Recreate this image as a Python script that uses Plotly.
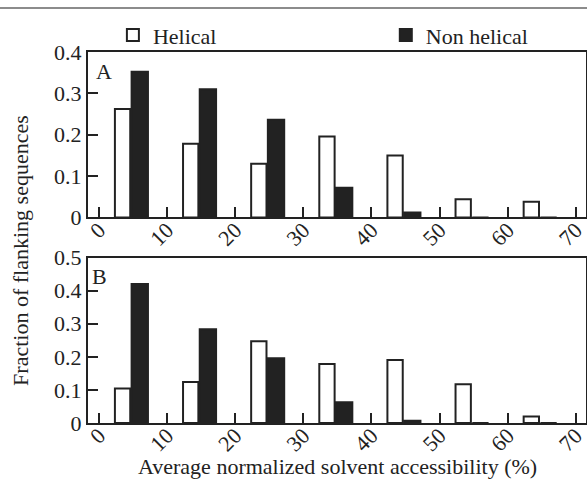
import plotly.graph_objects as go
from plotly.subplots import make_subplots

bins = [0, 10, 20, 30, 40, 50, 60]
tick_vals = [0, 10, 20, 30, 40, 50, 60, 70]
tick_text = ["0", "10", "20", "30", "40", "50", "60", "70"]

helical_A = [0.262, 0.178, 0.130, 0.196, 0.150, 0.044, 0.038]
nonhelical_A = [0.352, 0.310, 0.236, 0.072, 0.012, 0.0, 0.0]
helical_B = [0.104, 0.124, 0.247, 0.178, 0.190, 0.117, 0.020]
nonhelical_B = [0.420, 0.283, 0.196, 0.063, 0.007, 0.0, 0.0]

FONT = "Liberation Serif"
INK = "#222222"
FS = 22

fig = make_subplots(rows=2, cols=1, vertical_spacing=0.108)

for row, (h, n) in enumerate([(helical_A, nonhelical_A), (helical_B, nonhelical_B)], start=1):
    fig.add_trace(go.Bar(x=bins, y=h, name="Helical", offset=2.35, width=2.25,
                         marker=dict(color="white", line=dict(color=INK, width=2)),
                         legend="legend", showlegend=(row == 1)), row=row, col=1)
    fig.add_trace(go.Bar(x=bins, y=n, name="Non helical", offset=4.8, width=2.4,
                         marker=dict(color=INK, line=dict(color=INK, width=2)),
                         legend="legend2", showlegend=(row == 1)), row=row, col=1)

axis_common = dict(showline=True, mirror=True, linecolor=INK, linewidth=2,
                   showgrid=False, zeroline=False, ticks="inside", ticklen=10,
                   tickwidth=2, tickcolor=INK,
                   tickfont=dict(family=FONT, size=FS, color=INK))

for row in (1, 2):
    fig.update_xaxes(range=[-1.6, 71.5], tickvals=tick_vals, ticktext=tick_text,
                     tickangle=-45, ticklabelstandoff=-11, automargin=False,
                     ticklabeloverflow="allow",
                     row=row, col=1, **axis_common)
fig.update_yaxes(range=[0, 0.4], dtick=0.1, automargin=False, row=1, col=1, **axis_common)
fig.update_yaxes(range=[0, 0.5], dtick=0.1, automargin=False, row=2, col=1, **axis_common)

fig.add_annotation(text="Average normalized solvent accessibility (%)", xref="paper",
                   yref="paper", x=0.5, y=-0.118, xanchor="center", yanchor="middle",
                   showarrow=False, font=dict(family=FONT, size=FS, color=INK))
fig.add_annotation(text="A", xref="x domain", yref="y domain", x=0.012, y=0.97,
                   xanchor="left", yanchor="top", showarrow=False,
                   font=dict(family=FONT, size=FS, color=INK))
fig.add_annotation(text="B", xref="x2 domain", yref="y2 domain", x=0.005, y=0.97,
                   xanchor="left", yanchor="top", showarrow=False,
                   font=dict(family=FONT, size=FS, color=INK))
fig.add_annotation(text="Fraction of flanking sequences", xref="paper", yref="paper",
                   x=-0.137, y=0.466, textangle=-90, showarrow=False,
                   xanchor="center", yanchor="middle",
                   font=dict(family=FONT, size=FS, color=INK))

fig.add_shape(type="line", xref="paper", yref="paper", x0=-0.3, x1=1.1,
              y0=1.1186, y1=1.1186, line=dict(color="#666666", width=1.5))

legend_common = dict(orientation="h", xref="paper", yref="paper",
                     xanchor="left", yanchor="middle",
                     font=dict(family=FONT, size=FS, color=INK),
                     bgcolor="rgba(0,0,0,0)", borderwidth=0)

fig.update_layout(
    width=587, height=480,
    margin=dict(l=88, r=1, t=52, b=57, autoexpand=False),
    paper_bgcolor="white", plot_bgcolor="white",
    barmode="overlay",
    font=dict(family=FONT, size=FS, color=INK),
    legend=dict(x=0.05, y=1.045, **legend_common),
    legend2=dict(x=0.598, y=1.045, **legend_common),
)

fig.write_html("out.html", config={"displayModeBar": False},
               post_script="document.body.style.margin='0';"
                           "document.body.style.overflow='hidden';")
